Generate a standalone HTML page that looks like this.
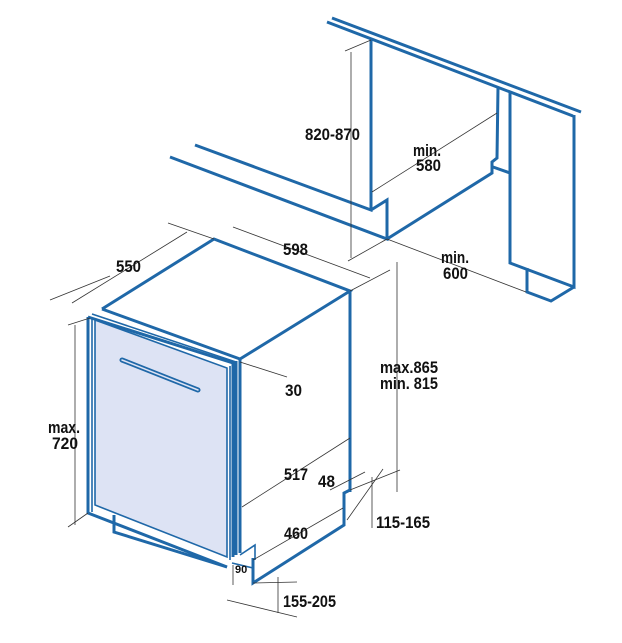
<!DOCTYPE html>
<html><head><meta charset="utf-8"><style>
html,body{margin:0;padding:0;background:#fff}
svg{display:block}
text{font-family:"Liberation Sans Narrow","Liberation Sans",sans-serif;font-weight:bold;font-size:17px;fill:#111}
.b{stroke:#1f68a8;stroke-width:3;fill:none;stroke-linejoin:miter}
.t{stroke:#1f68a8;stroke-width:1.6;fill:none}
.d{stroke:#333;stroke-width:0.8;fill:none}
</style></head><body>
<svg width="622" height="643" viewBox="0 0 622 643" xmlns="http://www.w3.org/2000/svg">
<!-- niche -->
<line class="b" x1="332" y1="18" x2="581" y2="112"/>
<line class="b" x1="327" y1="22" x2="573" y2="116"/>
<polyline class="b" points="195,145 371,210 371,39"/>
<polyline class="b" points="170,157 387,239 387,200 371,210"/>
<polyline class="b" points="387,239 492,173 492,162 497,158 498,87"/>
<line class="b" x1="493" y1="167" x2="510" y2="173"/>
<polyline class="b" points="510,92 510,263 574,287 574,115"/>
<polyline class="b" points="527,268 527,292 551,301 574,287"/>
<!-- niche dims -->
<line class="d" x1="351" y1="52" x2="351" y2="258"/>
<line class="d" x1="345" y1="51" x2="371" y2="40"/>
<line class="d" x1="348" y1="261" x2="387" y2="239"/>
<line class="d" x1="372" y1="192" x2="497" y2="113"/>
<line class="d" x1="387" y1="239" x2="526" y2="292"/>
<text x="305" y="140" textLength="55" lengthAdjust="spacingAndGlyphs">820-870</text>
<text x="413" y="156" textLength="28" lengthAdjust="spacingAndGlyphs">min.</text>
<text x="416" y="171" textLength="25" lengthAdjust="spacingAndGlyphs">580</text>
<text x="441" y="263" textLength="28" lengthAdjust="spacingAndGlyphs">min.</text>
<text x="443" y="279" textLength="25" lengthAdjust="spacingAndGlyphs">600</text>
<!-- appliance -->
<polygon points="95,320 227,368 227,557 95,505" fill="#dde3f4" stroke="none"/>
<polyline class="b" points="102,309 214,239 350,291 240,359"/>
<line class="b" x1="350" y1="291" x2="350" y2="492"/>
<polyline class="b" points="350,490 344,493 344,525 253,583 253,558"/>
<line class="b" x1="240" y1="359" x2="240" y2="553"/>
<line class="b" x1="236" y1="361" x2="236" y2="555"/>
<polyline class="b" points="102,309 240,359"/>
<polyline class="b" points="88,317 233,363 233,557"/>
<polyline class="t" points="92,314 236,362"/>
<polyline class="b" points="88,317 88,513 227,567"/>
<polyline class="t" points="92,318 92,512"/>
<polyline class="t" points="95,320 227,368 227,557 95,505 95,320"/>
<line class="t" x1="230" y1="366" x2="230" y2="560"/>
<line x1="122" y1="360" x2="198" y2="390" stroke="#1f68a8" stroke-width="5" stroke-linecap="round"/>
<line x1="122" y1="360" x2="198" y2="390" stroke="#dde3f4" stroke-width="1.5" stroke-linecap="round"/>
<polyline class="b" points="114,515 114,532 227,567"/>
<polyline class="t" points="232,563 253,568"/>
<polyline class="t" points="240,555 255,545 255,560"/>
<!-- appliance dims -->
<line class="d" x1="50" y1="300" x2="110" y2="276"/>
<line class="d" x1="72" y1="303" x2="187" y2="232"/>
<line class="d" x1="168" y1="223" x2="214" y2="239"/>
<line class="d" x1="233" y1="227" x2="370" y2="278"/>
<line class="d" x1="350" y1="291" x2="390" y2="270"/>
<line class="d" x1="75" y1="325" x2="75" y2="525"/>
<line class="d" x1="68" y1="325" x2="90" y2="318"/>
<line class="d" x1="68" y1="527" x2="88" y2="513"/>
<line class="d" x1="240" y1="362" x2="287" y2="377"/>
<line class="d" x1="242" y1="507" x2="350" y2="438"/>
<line class="d" x1="397" y1="262" x2="397" y2="492"/>
<line class="d" x1="253" y1="560" x2="343" y2="508"/>
<line class="d" x1="330" y1="490" x2="365" y2="472"/>
<line class="d" x1="347" y1="520" x2="383" y2="469"/>
<line class="d" x1="350" y1="490" x2="400" y2="470"/>
<line class="d" x1="372" y1="477" x2="372" y2="528"/>
<line class="d" x1="278" y1="577" x2="278" y2="613"/>
<line class="d" x1="253" y1="583" x2="297" y2="582"/>
<line class="d" x1="227" y1="600" x2="297" y2="617"/>
<line class="d" x1="233" y1="565" x2="233" y2="585"/>
<text x="116" y="272" textLength="25" lengthAdjust="spacingAndGlyphs">550</text>
<text x="283" y="255" textLength="25" lengthAdjust="spacingAndGlyphs">598</text>
<text x="285" y="396" textLength="17" lengthAdjust="spacingAndGlyphs">30</text>
<text x="48" y="433" textLength="32" lengthAdjust="spacingAndGlyphs">max.</text>
<text x="52" y="449" textLength="26" lengthAdjust="spacingAndGlyphs">720</text>
<text x="380" y="373" textLength="58" lengthAdjust="spacingAndGlyphs">max.865</text>
<text x="380" y="389" textLength="58" lengthAdjust="spacingAndGlyphs">min. 815</text>
<text x="284" y="480" textLength="24" lengthAdjust="spacingAndGlyphs">517</text>
<text x="318" y="487" textLength="17" lengthAdjust="spacingAndGlyphs">48</text>
<text x="284" y="539" textLength="24" lengthAdjust="spacingAndGlyphs">460</text>
<text x="376" y="528" textLength="54" lengthAdjust="spacingAndGlyphs">115-165</text>
<text x="235" y="573" style="font-size:11px">90</text>
<text x="283" y="607" textLength="53" lengthAdjust="spacingAndGlyphs">155-205</text>
</svg>
</body></html>
